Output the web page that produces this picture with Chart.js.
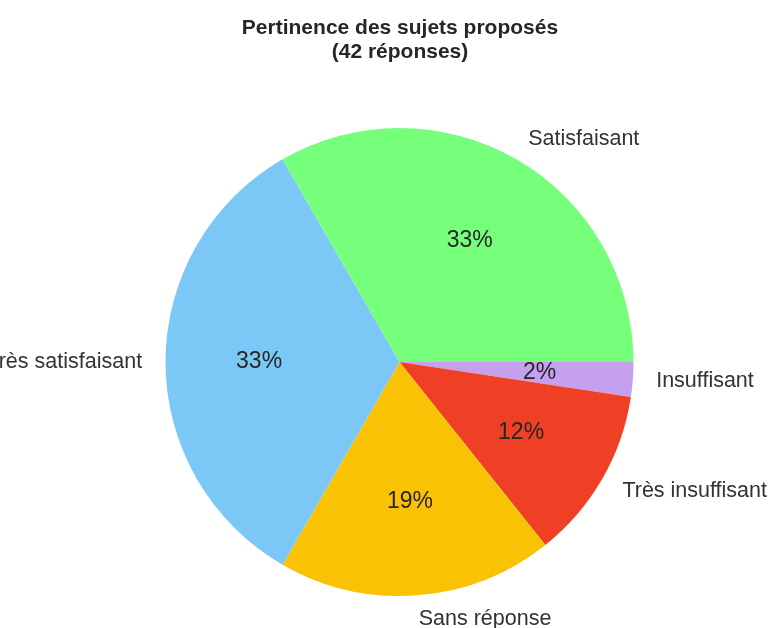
<!DOCTYPE html>
<html>
<head>
<meta charset="utf-8">
<script src="https://cdn.jsdelivr.net/npm/chart.js@4"></script>
<style>
  html, body { margin: 0; padding: 0; background: #fff; }
  #wrap { width: 770px; height: 628px; }
</style>
</head>
<body>
<div id="wrap"><canvas id="chart"></canvas></div>
<script>
// drawn clockwise from 3 o'clock, so the order is reversed vs matplotlib
const categories = ['Insuffisant', 'Très insuffisant', 'Sans réponse', 'Très satisfaisant', 'Satisfaisant'];
const counts = [1, 5, 8, 14, 14];
const colors = ['#c79fef', '#ef4026', '#fac205', '#7bc8f6', '#76ff7b'];
const titleLines = ['Pertinence des sujets proposés', '(42 réponses)'];

const fontFamily = "'Liberation Sans', Arial, sans-serif";
const textColor = '#262626';

const total = counts.reduce((a, b) => a + b, 0);

const pieLabels = {
  id: 'pieLabels',
  afterDraw(chart) {
    const ctx = chart.ctx;
    const arcs = chart.getDatasetMeta(0).data;
    ctx.save();
    ctx.textBaseline = 'middle';
    arcs.forEach((arc, i) => {
      const p = arc.getProps(['x', 'y', 'startAngle', 'endAngle', 'outerRadius'], true);
      const mid = (p.startAngle + p.endAngle) / 2;
      const cos = Math.cos(mid), sin = Math.sin(mid);
      // outer label
      const lx = p.x + 1.1 * p.outerRadius * cos;
      const ly = p.y + 1.1 * p.outerRadius * sin;
      ctx.font = `21.5px ${fontFamily}`;
      ctx.fillStyle = '#333';
      ctx.textAlign = lx > p.x ? 'left' : 'right';
      ctx.fillText(categories[i], lx, ly);
      // percent
      ctx.font = `23px ${fontFamily}`;
      ctx.fillStyle = textColor;
      ctx.textAlign = 'center';
      const pct = Math.round(counts[i] / total * 100) + '%';
      ctx.fillText(pct, p.x + 0.6 * p.outerRadius * cos, p.y + 0.6 * p.outerRadius * sin);
    });
    // title
    ctx.font = `bold 21px ${fontFamily}`;
    ctx.fillStyle = textColor;
    ctx.textAlign = 'center';
    ctx.fillText(titleLines[0], 400, 28);
    ctx.fillText(titleLines[1], 400, 52);
    ctx.restore();
  }
};

new Chart(document.getElementById('chart'), {
  type: 'pie',
  data: {
    labels: categories,
    datasets: [{
      data: counts,
      backgroundColor: colors,
      borderWidth: 0
    }]
  },
  options: {
    responsive: true,
    maintainAspectRatio: false,
    animation: false,
    rotation: 90,
    layout: { padding: { left: 165, right: 136, top: 128, bottom: 32 } },
    plugins: {
      legend: { display: false },
      title: { display: false },
      tooltip: { enabled: false }
    }
  },
  plugins: [pieLabels]
});
</script>
</body>
</html>
